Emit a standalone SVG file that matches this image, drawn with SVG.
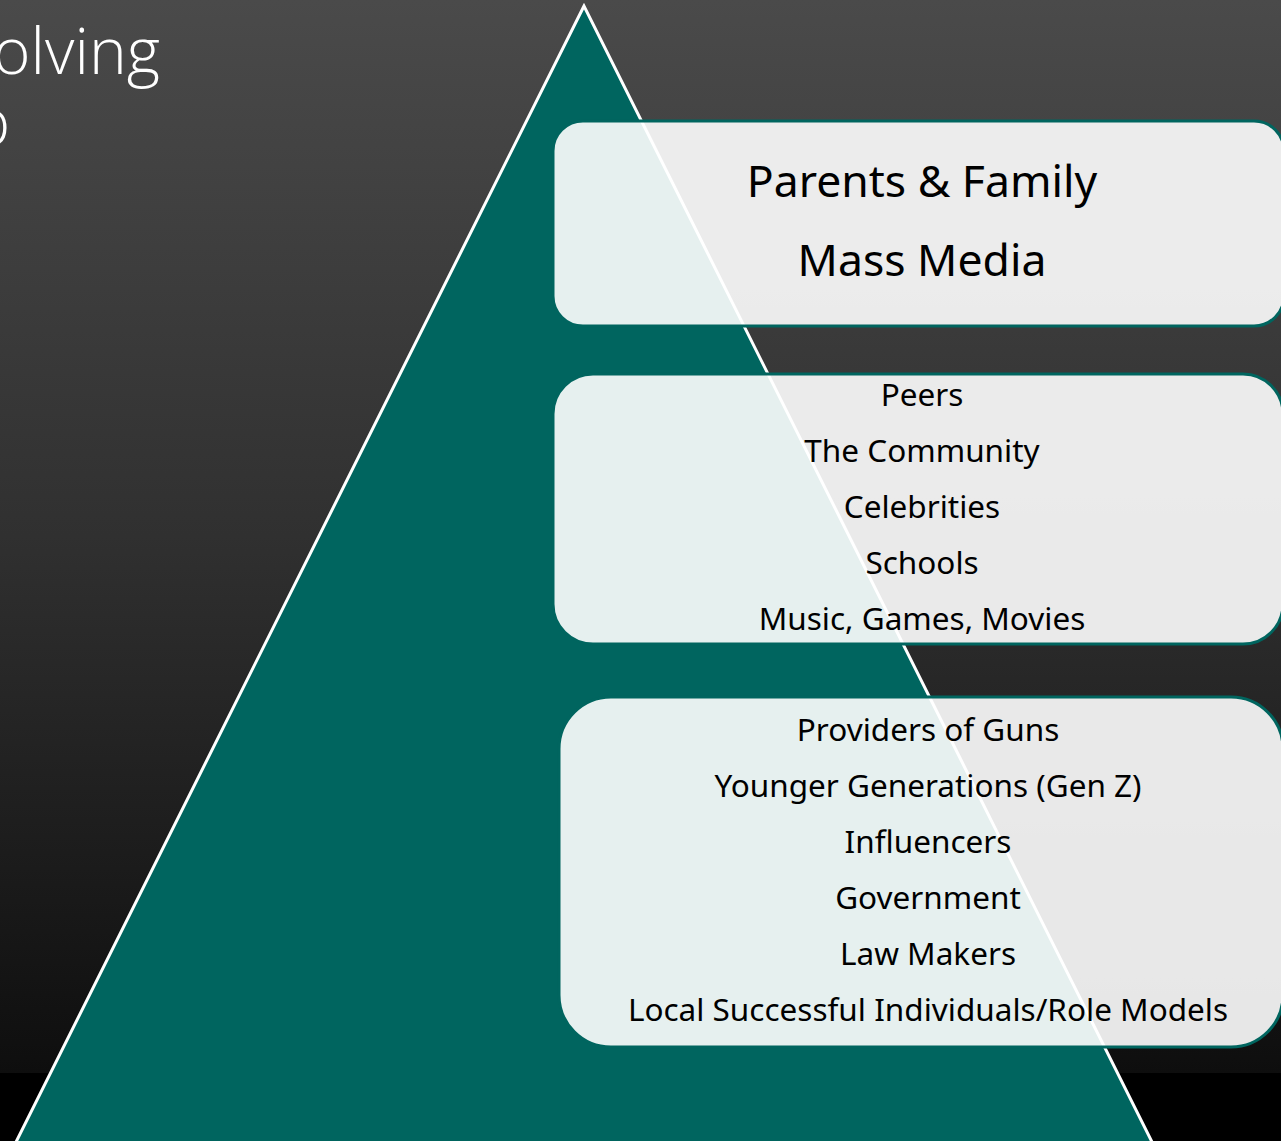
<svg xmlns="http://www.w3.org/2000/svg" width="1281" height="1141" viewBox="0 0 1281 1141">
  <defs>
    <linearGradient id="bg" x1="0" y1="0" x2="0" y2="1073" gradientUnits="userSpaceOnUse">
      <stop offset="0" stop-color="#4a4a4a"/>
      <stop offset="0.5" stop-color="#303030"/>
      <stop offset="1" stop-color="#0e0e0e"/>
    </linearGradient>
  </defs>
  <style>
    .box { fill: #ffffff; fill-opacity: 0.9; stroke: #00655f; stroke-width: 3; }
    .title { font-family: "Open Sans", "Liberation Sans", sans-serif; font-weight: 300; fill: #ffffff; font-size: 64px; }
    .big { font-family: "Noto Sans", "Liberation Sans", sans-serif; font-size: 44.5px; fill: #000000; text-anchor: middle; }
    .small { font-family: "Noto Sans", "Liberation Sans", sans-serif; font-size: 31.5px; fill: #000000; text-anchor: middle; }
  </style>
  <rect x="0" y="0" width="1281" height="1141" fill="#000000"/>
  <rect x="0" y="0" width="1281" height="1073" fill="url(#bg)"/>
  <g id="title">
    <text class="title" x="-7" y="74">olving</text>
    <text class="title" x="-28" y="145">p</text>
  </g>
  <g id="pyramid">
    <polygon points="584,6 12,1150 1156,1150" fill="#00655f" stroke="#ffffff" stroke-width="3" stroke-linejoin="miter"/>
  </g>
  <g id="tier1">
    <rect class="box" x="553" y="121" width="731" height="205" rx="30" ry="30"/>
    <text class="big" x="922" y="197">Parents &amp; Family</text>
    <text class="big" x="922" y="276">Mass Media</text>
  </g>
  <g id="tier2">
    <rect class="box" x="553" y="374" width="730" height="270" rx="40" ry="40"/>
    <text class="small" x="922" y="406">Peers</text>
    <text class="small" x="922" y="462">The Community</text>
    <text class="small" x="922" y="518">Celebrities</text>
    <text class="small" x="922" y="574">Schools</text>
    <text class="small" x="922" y="630">Music, Games, Movies</text>
  </g>
  <g id="tier3">
    <rect class="box" x="559" y="697" width="724" height="350" rx="52" ry="52"/>
    <text class="small" x="928" y="741">Providers of Guns</text>
    <text class="small" x="928" y="797">Younger Generations (Gen Z)</text>
    <text class="small" x="928" y="853">Influencers</text>
    <text class="small" x="928" y="909">Government</text>
    <text class="small" x="928" y="965">Law Makers</text>
    <text class="small" x="928" y="1021">Local Successful Individuals/Role Models</text>
  </g>
</svg>
